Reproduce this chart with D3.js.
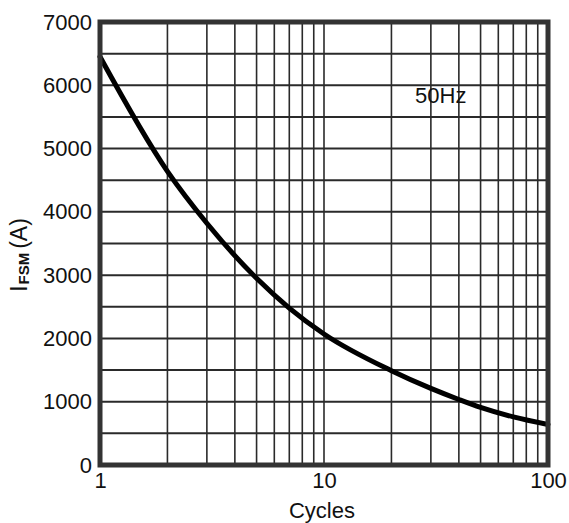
<!DOCTYPE html>
<html>
<head>
<meta charset="utf-8">
<script src="https://cdn.jsdelivr.net/npm/d3@7"></script>
<style>
  body { margin: 0; background: #fff; }
  text { font-family: "Liberation Sans", Arial, sans-serif; fill: #111; }
</style>
</head>
<body>
<div id="chart"></div>
<script>
// surge current vs cycles
var cycles  = [1, 2, 3, 5, 7, 10, 20, 30, 40, 50, 70, 100];
var current = [6450, 4640, 3820, 2950, 2480, 2070, 1490, 1210, 1035, 910, 760, 640];

var yTicks = [0, 1000, 2000, 3000, 4000, 5000, 6000, 7000];
var xTicks = [1, 10, 100];

var margin = {left: 100, right: 21, top: 22, bottom: 58};
var totalWidth = 569, totalHeight = 523;
var width = totalWidth - margin.left - margin.right;
var height = totalHeight - margin.top - margin.bottom;

var svg = d3.select("#chart").append("svg")
    .attr("width", totalWidth)
    .attr("height", totalHeight);

var g = svg.append("g")
    .attr("transform", "translate(" + margin.left + "," + margin.top + ")");

var xScale = d3.scaleLog().domain([1, 100]).range([0, width]);
var yScale = d3.scaleLinear().domain([0, 7000]).range([height, 0]);

// grid: minor log lines + every 500 horizontally
var xGrid = [];
[1, 10].forEach(function(dec) {
  for (var k = 2; k <= 9; k++) xGrid.push(dec * k);
});
xGrid.push(10);

g.selectAll(".vgrid")
  .data(xGrid)
  .enter().append("line")
  .attr("class", "vgrid")
  .attr("x1", function(d) { return xScale(d); })
  .attr("x2", function(d) { return xScale(d); })
  .attr("y1", 0).attr("y2", height)
  .attr("stroke", "#2a2a2a")
  .attr("stroke-width", 1.6);

g.selectAll(".hgrid")
  .data(d3.range(500, 7000, 500))
  .enter().append("line")
  .attr("class", "hgrid")
  .attr("x1", 0).attr("x2", width)
  .attr("y1", function(d) { return yScale(d); })
  .attr("y2", function(d) { return yScale(d); })
  .attr("stroke", "#2a2a2a")
  .attr("stroke-width", 2);

// the curve
var line = d3.line()
  .x(function(d, i) { return xScale(cycles[i]); })
  .y(function(d) { return yScale(d); })
  .curve(d3.curveMonotoneX);

g.append("path")
  .datum(current)
  .attr("d", line)
  .attr("fill", "none")
  .attr("stroke", "#000")
  .attr("stroke-width", 5)
  .attr("stroke-linecap", "round");

// frame
g.append("rect")
  .attr("x", 0).attr("y", 0)
  .attr("width", width).attr("height", height)
  .attr("fill", "none")
  .attr("stroke", "#333")
  .attr("stroke-width", 5);

// axes (labels only)
var yAxis = d3.axisLeft(yScale).tickValues(yTicks).tickSize(0).tickPadding(8)
  .tickFormat(d3.format("d"));
g.append("g")
  .attr("class", "axis yaxis")
  .call(yAxis)
  .call(function(s) { s.select(".domain").remove(); })
  .selectAll("text")
  .style("font-size", "22px")
  .style("font-family", "Liberation Sans, Arial, sans-serif")
  .style("fill", "#111");

var xAxis = d3.axisBottom(xScale).tickValues(xTicks).tickSize(0).tickPadding(7)
  .tickFormat(d3.format("d"));
g.append("g")
  .attr("class", "axis xaxis")
  .attr("transform", "translate(0," + height + ")")
  .call(xAxis)
  .call(function(s) { s.select(".domain").remove(); })
  .selectAll("text")
  .style("font-size", "22px")
  .style("font-family", "Liberation Sans, Arial, sans-serif")
  .style("fill", "#111");

// titles
svg.append("text")
  .attr("x", 322)
  .attr("y", 518)
  .attr("text-anchor", "middle")
  .style("font-size", "22px")
  .text("Cycles");

var yt = svg.append("text")
  .attr("transform", "translate(27,255) rotate(-90)")
  .attr("text-anchor", "middle")
  .style("font-size", "23px");
yt.append("tspan").text("I");
yt.append("tspan").attr("dy", 2).attr("dx", 1).style("font-size", "15px").style("font-weight", "bold").text("FSM");
yt.append("tspan").attr("dy", -2).attr("dx", 4).text("(A)");

g.append("text")
  .attr("x", xScale(25.5))
  .attr("y", yScale(5720))
  .style("font-size", "22px")
  .text("50Hz");
</script>
</body>
</html>
